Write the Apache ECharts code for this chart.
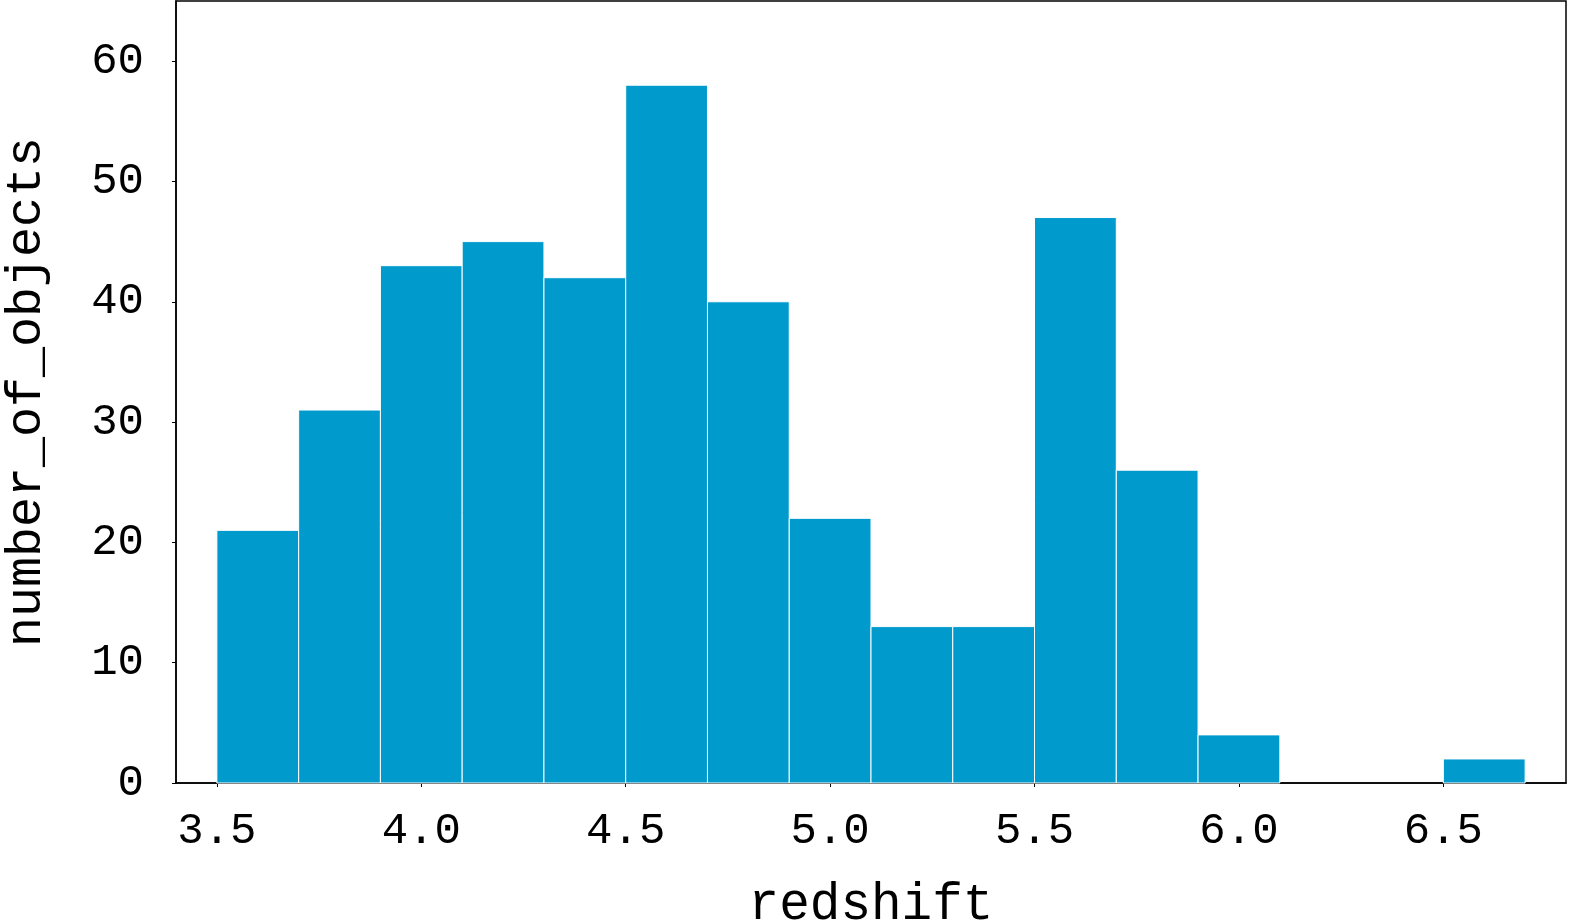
<!DOCTYPE html>
<html>
<head>
<meta charset="utf-8">
<script src="https://cdn.jsdelivr.net/npm/echarts@6/dist/echarts.min.js"></script>
<style>
    html, body {margin:0;padding:0;background:#fff;}
    #chart {width:1569px;height:920px;}
</style>
</head>
<body>
<div id="chart"></div>
<script>
    // histogram bins (redshift) and counts
    var binLow  = [3.5, 3.7, 3.9, 4.1, 4.3, 4.5, 4.7, 4.9, 5.1, 5.3, 5.5, 5.7, 5.9, 6.1, 6.3, 6.5];
    var binHigh = [3.7, 3.9, 4.1, 4.3, 4.5, 4.7, 4.9, 5.1, 5.3, 5.5, 5.7, 5.9, 6.1, 6.3, 6.5, 6.7];
    var counts  = [21, 31, 43, 45, 42, 58, 40, 22, 13, 13, 47, 26, 4, 0, 0, 2];
    var xTicks  = [3.5, 4.0, 4.5, 5.0, 5.5, 6.0, 6.5];
    var yTicks  = [0, 10, 20, 30, 40, 50, 60];

    var font = 'Liberation Mono';
    var chart = echarts.init(document.getElementById('chart'));

    var data = binLow.map(function (lo, i) {
        return [lo, binHigh[i], counts[i]];
    });

    var option = {
        animation: false,
        grid: {
            left: 176, right: 3, top: 1, bottom: 137,
            outerBoundsMode: 'none',
            containLabel: false,
            show: true, borderColor: '#000', borderWidth: 1.5, backgroundColor: 'transparent'
        },
        xAxis: {
            type: 'value',
            min: 3.4,
            max: 6.8,
            name: 'redshift',
            nameLocation: 'middle',
            nameGap: 97,
            nameTextStyle: {fontFamily: font, fontSize: 51, color: '#000'},
            axisLine: {lineStyle: {color: '#000', width: 1.5}},
            axisTick: {show: true, length: 4, inside: false, customValues: xTicks, lineStyle: {color: '#000'}},
            axisLabel: {
                customValues: xTicks, margin: 26,
                fontFamily: font, fontSize: 44, color: '#000',
                formatter: function (v) { return v.toFixed(1); }
            },
            splitLine: {show: false}
        },
        yAxis: {
            type: 'value',
            min: 0,
            max: 65,
            name: 'number_of_objects',
            nameLocation: 'middle',
            nameGap: 124,
            nameTextStyle: {fontFamily: font, fontSize: 50, color: '#000'},
            axisLine: {show: true, lineStyle: {color: '#000', width: 1.5}},
            axisTick: {show: true, length: 4, customValues: yTicks, lineStyle: {color: '#000'}},
            axisLabel: {
                customValues: yTicks, margin: 32,
                fontFamily: font, fontSize: 44, color: '#000'
            },
            splitLine: {show: false}
        },
        series: [{
            type: 'custom',
            data: data,
            encode: {x: [0, 1], y: 2},
            renderItem: function (params, api) {
                if (!api.value(2)) {
                    return null;
                }
                var p0 = api.coord([api.value(0), api.value(2)]);
                var p1 = api.coord([api.value(1), 0]);
                return {
                    type: 'rect',
                    shape: {x: p0[0], y: p0[1], width: p1[0] - p0[0], height: p1[1] - p0[1]},
                    style: {fill: '#009ACD', stroke: '#fff', lineWidth: 1}
                };
            }
        }]
    };
    chart.setOption(option);
</script>
</body>
</html>
